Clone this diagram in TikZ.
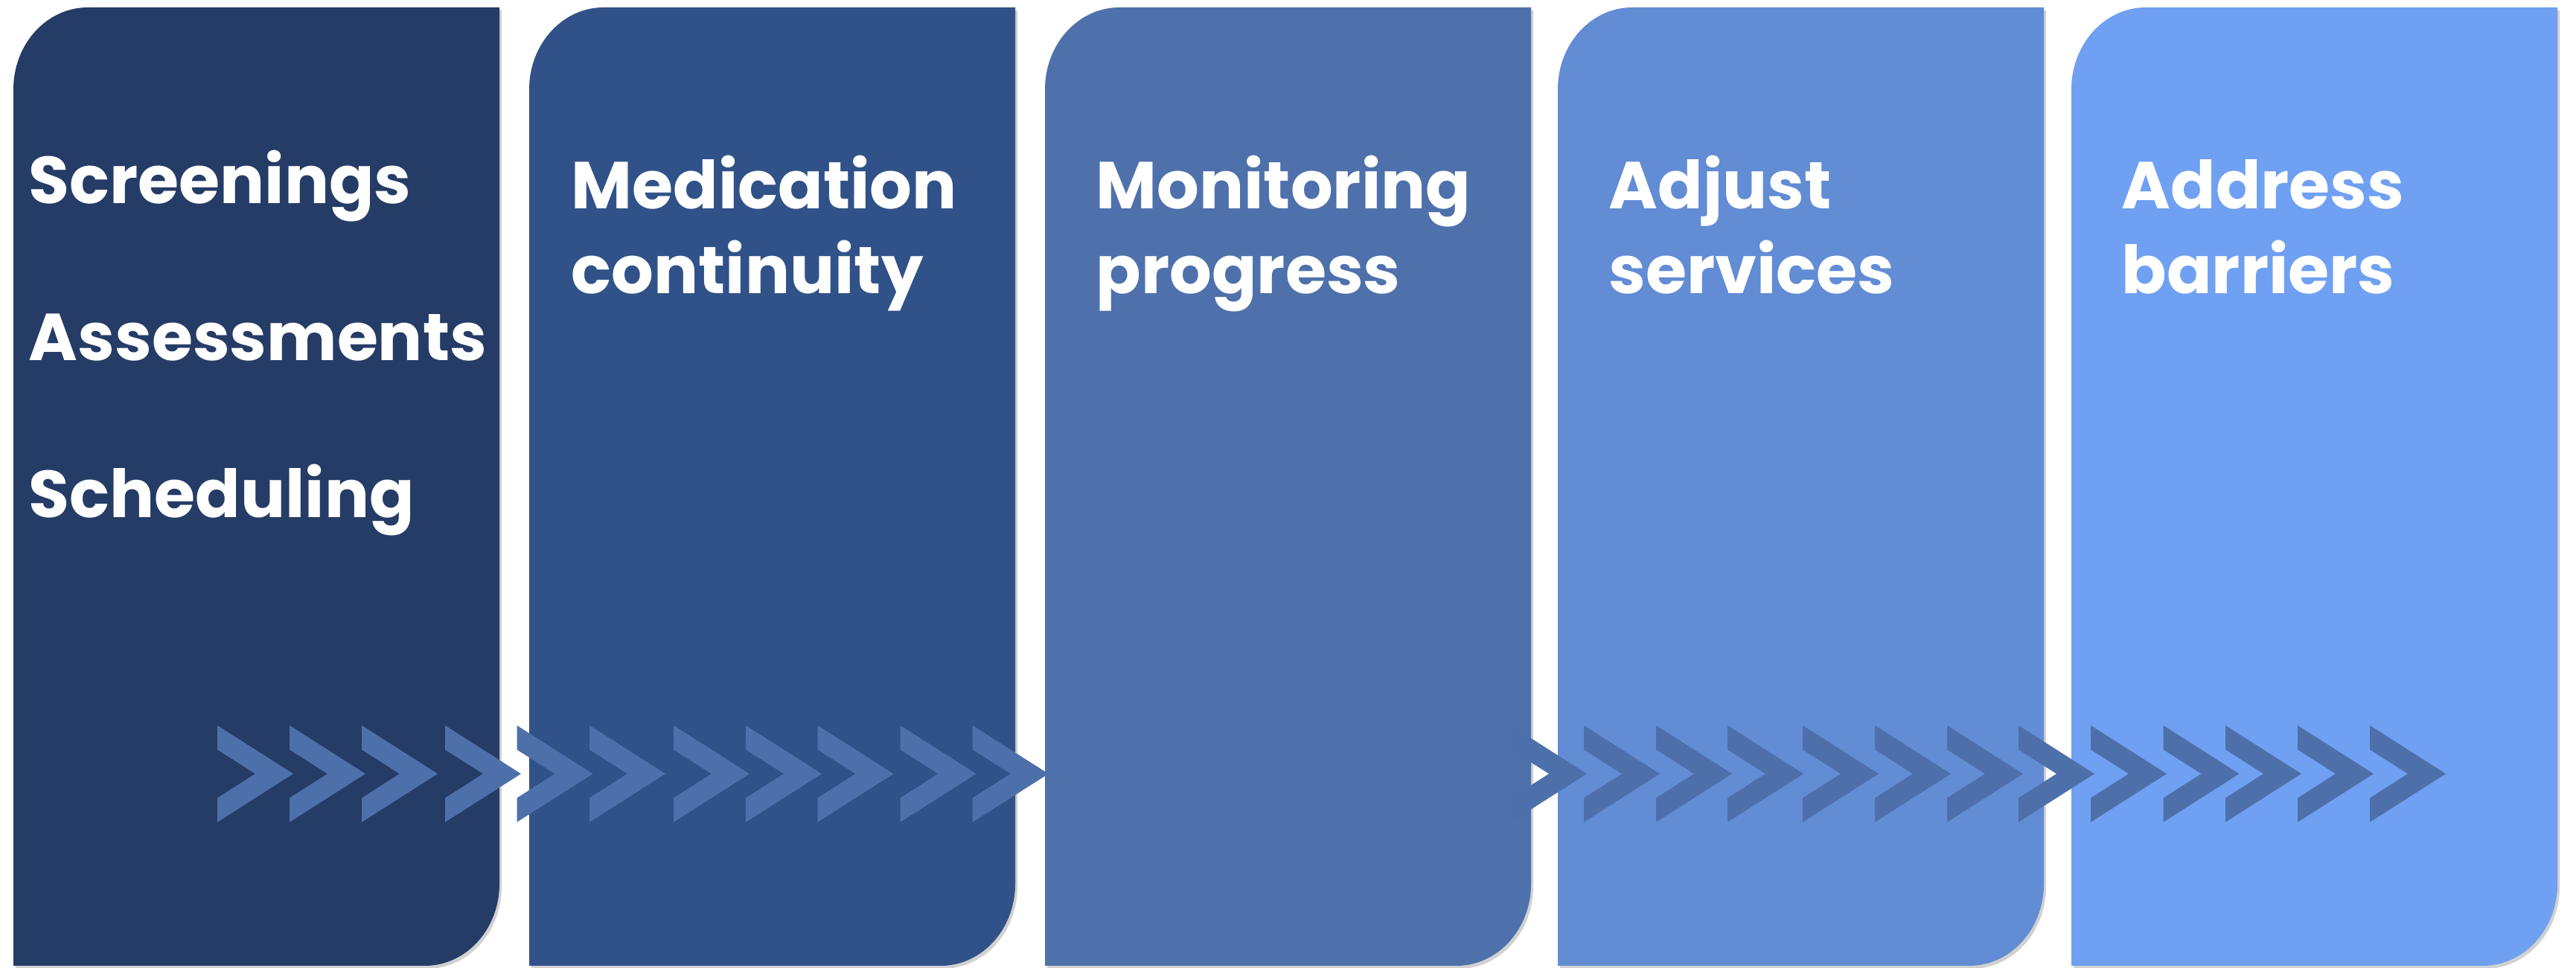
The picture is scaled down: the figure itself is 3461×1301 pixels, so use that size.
\documentclass[tikz,border=0pt]{standalone}
\usepackage{fontspec}
\setmainfont{Poppins}
\definecolor{boxA}{HTML}{253C66}
\definecolor{boxB}{HTML}{305288}
\definecolor{boxC}{HTML}{4E71AB}
\definecolor{boxD}{HTML}{628CD4}
\definecolor{boxE}{HTML}{6FA0F2}
\definecolor{chevcol}{HTML}{4E70AA}
\newcommand\stagepath[1]{(#1,1298) -- (#1,120) .. controls (#1,59.25) and ({#1+44.77},10) .. ({#1+100},10) -- ({#1+653},10) -- ({#1+653},1188) .. controls ({#1+653},1248.75) and ({#1+608.23},1298) .. ({#1+553},1298) -- cycle}
\tikzset{
  lbl/.style={text=white, font=\bfseries\fontsize{22.3}{27}\selectfont, inner sep=0pt, anchor=base west},
  shadowfill/.style={fill=black, opacity=0.18, shift={(3,4)}},
  chev/.style={fill=chevcol}
}
\begin{document}
\begin{tikzpicture}[x=0.25pt,y=-0.25pt]
\useasboundingbox (0,0) rectangle (3461,1301);
\fill[white] (0,0) rectangle (3461,1301);
% shadows
\foreach \L in {18,711,1404,2093,2783} {\fill[shadowfill] \stagepath{\L};}
% stage boxes
\fill[boxA] \stagepath{18};
\fill[boxB] \stagepath{711};
\fill[boxC] \stagepath{1404};
\fill[boxD] \stagepath{2093};
\fill[boxE] \stagepath{2783};
% chevrons
\foreach \c in {292,389,486,598,694.5,792,905,1002,1098.5,1209.5,1306.7,2030,2128,2225,2321,2422,2519,2616,2712,2809,2906.5,2990,3087,3184}
  {\fill[chev] (\c,975) -- ({\c+102},1040) -- (\c,1105) -- (\c,1072.5) -- ({\c+51},1040) -- (\c,1007.5) -- cycle;}
% labels
\node[lbl] (s1a) at (38,274) {Screenings};
\node[lbl] (s1b) at (38,485) {Assessments};
\node[lbl] (s1c) at (38,696) {Scheduling};
\node[lbl] (s2a) at (767,281) {Medication};
\node[lbl] (s2b) at (767,395) {continuity};
\node[lbl] (s3a) at (1472,281) {Monitoring};
\node[lbl] (s3b) at (1472,395) {progress};
\node[lbl] (s4a) at (2161,281) {Adjust};
\node[lbl] (s4b) at (2161,395) {services};
\node[lbl] (s5a) at (2850,281) {Address};
\node[lbl] (s5b) at (2850,395) {barriers};
\end{tikzpicture}
\end{document}
